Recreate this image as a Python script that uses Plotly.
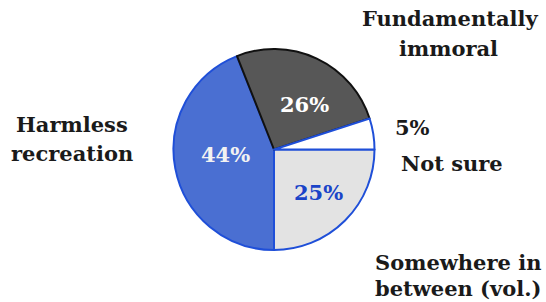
import plotly.graph_objects as go

# Data
labels = ["Somewhere in between (vol.)", "Harmless recreation", "Fundamentally immoral", "Not sure"]
values = [25, 44, 26, 5]

W, H = 546, 302
FONT = "DejaVu Serif"

slice_colors = ["#e3e3e3", "#4a6fd2", "#575757", "#ffffff"]
line_colors = ["#1f4fd8", "#1f4fd8", "#111111", "#1f4fd8"]

fig = go.Figure()
fig.add_trace(go.Pie(
    labels=labels,
    values=values,
    sort=False,
    direction="clockwise",
    rotation=90,
    textinfo="none",
    hoverinfo="label+percent",
    marker=dict(colors=slice_colors, line=dict(color=line_colors, width=2)),
    domain=dict(x=[173 / W, 375 / W], y=[(H - 250) / H, (H - 49) / H]),
    showlegend=False,
))

def ann(text, px, py, size, color="#1a1a1a"):
    fig.add_annotation(
        text=f"<b>{text}</b>", x=px / W, y=1 - py / H, xref="paper", yref="paper",
        xanchor="center", yanchor="middle", showarrow=False,
        font=dict(family=FONT, size=size, color=color),
    )

# Category labels (one line per annotation)
cat_lines = {
    "Fundamentally immoral": [("Fundamentally", 450, 19), ("immoral", 448, 48)],
    "Harmless recreation": [("Harmless", 72, 124), ("recreation", 72, 153)],
    "Not sure": [("Not sure", 452, 163)],
    "Somewhere in between (vol.)": [("Somewhere in", 458, 262), ("between (vol.)", 458, 288)],
}
for lab in labels:
    for t, px, py in cat_lines[lab]:
        ann(t, px, py, 21)

# Percentage labels
pct_pos = {
    "Somewhere in between (vol.)": (318, 192, "#1a44c8"),
    "Harmless recreation": (225, 154, "#f2f2f2"),
    "Fundamentally immoral": (304, 104, "#ffffff"),
    "Not sure": (412, 127, "#1a1a1a"),
}
for lab, v in zip(labels, values):
    px, py, col = pct_pos[lab]
    ann(f"{v}%", px, py, 21, col)

fig.update_layout(
    width=W, height=H,
    margin=dict(l=0, r=0, t=0, b=0),
    paper_bgcolor="white", plot_bgcolor="white",
    font=dict(family=FONT),
)
fig.write_html("out.html", config={"displayModeBar": False},
               post_script="document.body.style.margin='0';")
